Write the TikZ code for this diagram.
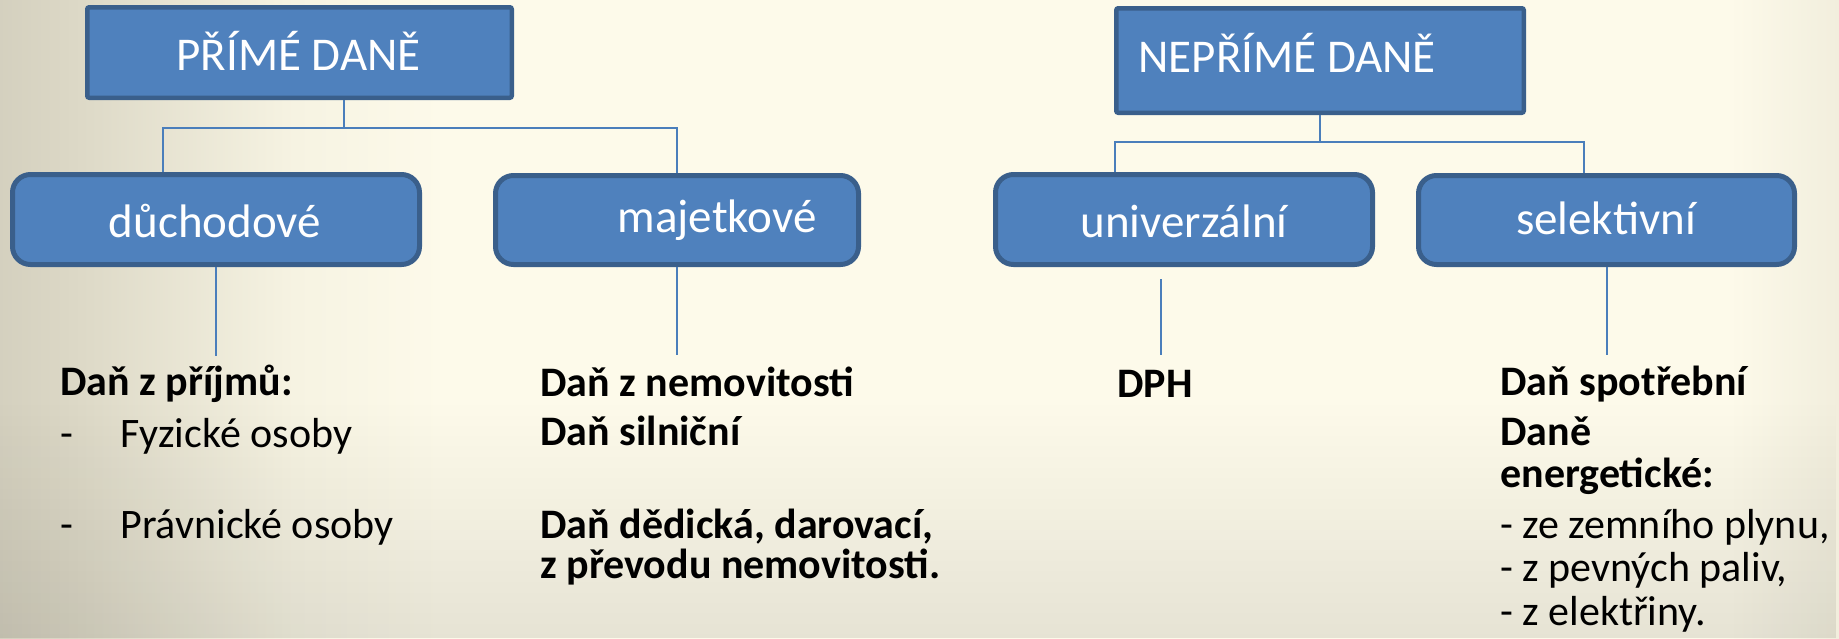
\documentclass[tikz,border=0pt]{standalone}
\usepackage{fontspec}
\setmainfont{Carlito}
\usetikzlibrary{calc,fadings}
\definecolor{boxfill}{HTML}{4F81BD}
\definecolor{boxline}{HTML}{3A5F8B}
\definecolor{connc}{HTML}{4A7EBB}
\definecolor{bgA}{HTML}{7F7C6E}
\definecolor{bgB}{HTML}{8C8979}
\definecolor{bgC}{HTML}{A09C8D}
\definecolor{bgD}{HTML}{BDB9A9}
\definecolor{bgE}{HTML}{DCD8C6}
\definecolor{bgF}{HTML}{F6F3E2}
\definecolor{bgG}{HTML}{FDFAEA}
\definecolor{bgH}{HTML}{E6E2D0}
\definecolor{bgI}{HTML}{C5C1AF}
\definecolor{bgJ}{HTML}{A7A392}
\definecolor{bgK}{HTML}{858273}
\pgfdeclarehorizontalshading{bgh}{100bp}{color(0bp)=(bgA); color(4bp)=(bgB); color(10bp)=(bgC); color(19bp)=(bgD); color(27bp)=(bgE); color(33bp)=(bgF); color(37bp)=(bgG); color(72bp)=(bgG); color(78bp)=(bgH); color(84bp)=(bgI); color(91bp)=(bgJ); color(98bp)=(bgK); color(100bp)=(bgA)}
\begin{document}
\begin{tikzpicture}[x=0.5pt,y=-0.5pt,
  sqbox/.style={draw=boxline, fill=boxfill, line width=2.25pt, rounded corners=1pt, inner sep=0pt},
  rbox/.style={draw=boxline, fill=boxfill, line width=2.5pt, rounded corners=9pt, inner sep=0pt},
  boxtxt/.style={text=white, font=\fontsize{23.5pt}{28pt}\selectfont, inner sep=0pt, anchor=base},
  conn/.style={draw=connc, line width=1pt},
  bodyb/.style={font=\fontsize{21pt}{25pt}\selectfont\bfseries, inner sep=0pt, anchor=base west},
  body/.style={font=\fontsize{21pt}{25pt}\selectfont, inner sep=0pt, anchor=base west}]
\useasboundingbox (0,0) rectangle (1839,638);
\shade[shading=bgh] (0,0) rectangle (1839,638);
\fill[black, opacity=0.09, path fading=north] (0,400) rectangle (1839,638);

% boxes
\node[sqbox, minimum width=212.25pt, minimum height=45.25pt] (b1) at (299.5,52.5) {};
\node[sqbox, minimum width=203.75pt, minimum height=52.25pt] (b2) at (1320,60.5) {};
\node[rbox, minimum width=203.5pt, minimum height=45pt] (duch) at (216,219.5) {};
\node[rbox, minimum width=181.5pt, minimum height=44.5pt] (maj) at (677,220) {};
\node[rbox, minimum width=188.5pt, minimum height=45pt] (univ) at (1184,219.5) {};
\node[rbox, minimum width=188pt, minimum height=44.5pt] (sel) at (1606.5,220) {};

% box texts
\node[boxtxt] (t1) at (298.5,70) {PŘÍMÉ DANĚ};
\node[boxtxt, anchor=base west] (t2) at (1138,72) {NEPŘÍMÉ DANĚ};
\node[boxtxt] (tduch) at (215,237) {důchodové};
\node[boxtxt] (tmaj) at (717,232) {majetkové};
\node[boxtxt] (tuniv) at (1184,237) {univerzální};
\node[boxtxt] (tsel) at (1606,234) {selektivní};

% tree connectors
\coordinate (jL) at (344,128);
\coordinate (jLa) at (163,128);
\coordinate (jLb) at (677,128);
\draw[conn] ($(b1.south)+(44.5,0)$) -- (jL);
\draw[conn] (duch.north -| jLa) -- (jLa) -- (jLb) -- (maj.north);
\coordinate (jR) at (1320,142);
\coordinate (jRa) at (1115,142);
\coordinate (jRb) at (1584,142);
\draw[conn] (b2.south) -- (jR);
\draw[conn] (univ.north -| jRa) -- (jRa) -- (jRb) -- (sel.north -| jRb);

% lines below
\coordinate (e1) at (216,356);
\coordinate (e2) at (677,355);
\coordinate (s3) at (1161,279);
\coordinate (e3) at (1161,355);
\coordinate (e4) at (1607,355);
\draw[conn] (duch.south) -- (e1);
\draw[conn] (maj.south) -- (e2);
\draw[conn] (s3) -- (e3);
\draw[conn] (sel.south -| e4) -- (e4);

% texts
\node[bodyb] (a1) at (60,395) {Daň z příjmů:};
\node[body] (a2) at (60,447) {\makebox[30pt][l]{-}Fyzické osoby};
\node[body] (a3) at (60,538) {\makebox[30pt][l]{-}Právnické osoby};

\node[bodyb] (m1) at (540,396) {Daň z nemovitosti};
\node[bodyb] (m2) at (540,445) {Daň silniční};
\node[bodyb] (m3) at (540,538) {Daň dědická, darovací,};
\node[bodyb] (m4) at (540,578) {z převodu nemovitosti.};

\node[bodyb] (d1) at (1117,397) {DPH};

\node[bodyb] (r1) at (1500,395) {Daň spotřební};
\node[bodyb] (r2) at (1500,445) {Daně};
\node[bodyb] (r3) at (1500,487) {energetické:};
\node[body] (r4) at (1500,538) {- ze zemního plynu,};
\node[body] (r5) at (1500,581) {- z pevných paliv,};
\node[body] (r6) at (1500,625) {- z elektřiny.};
\end{tikzpicture}
\end{document}
